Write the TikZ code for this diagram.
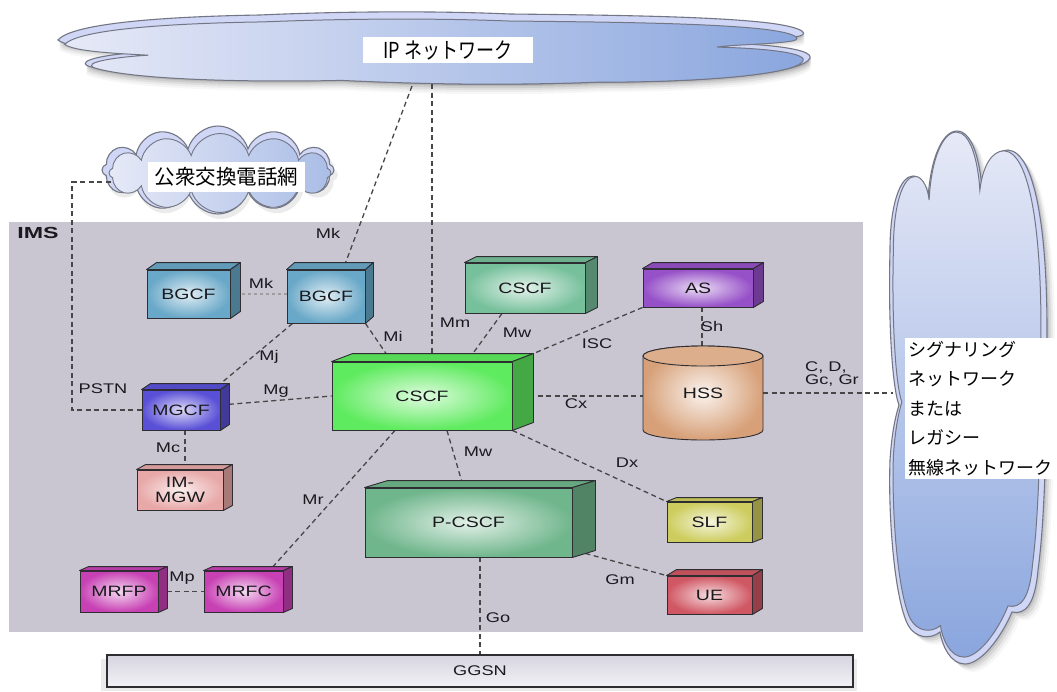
\documentclass[tikz,border=0pt]{standalone}
\usepackage{fontspec}
\usetikzlibrary{calc,shapes.symbols}
\newfontfamily\lat{Liberation Sans}[FakeStretch=1.3]
\newfontfamily\latw{Liberation Sans}[FakeStretch=1.45]
\newfontfamily\jp{Noto Sans CJK JP}
\newfontfamily\jpn{Noto Sans CJK JP}[FakeStretch=0.82]

\definecolor{imsbg}{RGB}{201,198,210}
\definecolor{edge}{RGB}{45,45,50}
\definecolor{txt}{RGB}{25,25,30}
\definecolor{cbgcf}{RGB}{105,168,200}
\definecolor{ccscfu}{RGB}{118,192,155}
\definecolor{ccscf}{RGB}{95,235,95}
\definecolor{cas}{RGB}{150,80,200}
\definecolor{chss}{RGB}{215,160,120}
\definecolor{cmgcf}{RGB}{90,80,215}
\definecolor{cimgw}{RGB}{232,168,168}
\definecolor{cpcscf}{RGB}{112,182,140}
\definecolor{cslf}{RGB}{205,205,95}
\definecolor{cue}{RGB}{208,88,100}
\definecolor{cmrf}{RGB}{200,65,180}
\definecolor{cloudhi}{RGB}{208,214,246}
\definecolor{cloudlt}{RGB}{230,233,247}
\definecolor{clouddk}{RGB}{138,166,222}
\definecolor{cloudln}{RGB}{115,118,132}

\pgfdeclarelayer{back}
\pgfdeclarelayer{lines}
\pgfsetlayers{back,lines,main}

\tikzset{
  unit/.style={draw=edge, line width=0.9, inner sep=0pt, inner color=#1!20!white,
    outer color=#1, font=\lat\fontsize{15}{16}\selectfont, text=txt, align=center},
  link/.style={draw=black!72, line width=1.3, dash pattern=on 5pt off 3.5pt},
  faintlink/.style={draw=black!38, line width=1.1, dash pattern=on 3pt off 3pt},
  iface/.style={font=\lat\fontsize{14}{13}\selectfont, text=txt, inner sep=0pt, align=left},
  whitelabel/.style={fill=white, inner sep=0pt, text=black},
  cloudrim/.style={fill=cloudhi, draw=cloudln, line width=1.1},
}

% a solid block: front face as a node, top and side faces drawn behind it
\newcommand\unitbox[9]{%
  \node[unit=#8, minimum width=#4, minimum height=#5] (#1) at (#2,#3) {#9};
  \fill[#8!92!black, draw=edge, line width=0.9, line join=round]
    (#1.north west) -- ++(#6,-#7) -- ($(#1.north east)+(#6,-#7)$) -- (#1.north east) -- cycle;
  \fill[#8!72!black, draw=edge, line width=0.9, line join=round]
    (#1.north east) -- ++(#6,-#7) -- ($(#1.south east)+(#6,-#7)$) -- (#1.south east) -- cycle;
}

% outline of the wide cloud at the top
\def\topcloud{(58,40) .. controls (75,20) and (200,16) .. (260,15)
  .. controls (350,11) and (440,11) .. (510,14)
  .. controls (600,15) and (700,16) .. (760,22)
  .. controls (800,26) and (810,33) .. (800,36)
  .. controls (780,40) and (740,40) .. (722,43)
  .. controls (760,44) and (813,48) .. (810,58)
  .. controls (805,72) and (720,82) .. (600,82)
  .. controls (500,86) and (420,84) .. (340,80)
  .. controls (250,82) and (130,80) .. (88,66)
  .. controls (75,60) and (110,54) .. (143,52)
  .. controls (110,50) and (68,48) .. (58,40) -- cycle}

% outline of the tall cloud on the right
\def\sidecloud{(890,250) .. controls (890,205) and (900,176) .. (913,176)
  .. controls (922,176) and (927,190) .. (928,200)
  .. controls (930,160) and (942,131) .. (957,131)
  .. controls (972,131) and (980,160) .. (982,190)
  .. controls (985,165) and (995,150) .. (1008,150)
  .. controls (1035,152) and (1047,230) .. (1047,330)
  .. controls (1047,430) and (1045,520) .. (1038,570)
  .. controls (1035,605) and (1025,615) .. (1012,612)
  .. controls (1000,640) and (980,664) .. (965,664)
  .. controls (950,664) and (942,645) .. (940,632)
  .. controls (930,640) and (915,638) .. (908,625)
  .. controls (895,600) and (888,520) .. (890,460)
  .. controls (892,430) and (896,415) .. (899,405)
  .. controls (893,390) and (888,330) .. (890,250) -- cycle}

\begin{document}
\begin{tikzpicture}[x=1pt, y=-1pt]
\useasboundingbox (0,0) rectangle (1057,691);

\begin{pgfonlayer}{back}
  \fill[white] (0,0) rectangle (1057,691);
  % IMS domain
  \fill[imsbg] (9,222) rectangle (863,632);
  % IP network cloud
  \foreach \o/\op in {2/0.10,4/0.08,6/0.06,8/0.04,10/0.03}
    \fill[black, opacity=\op, shift={(1,\o)}] \topcloud;
  \path[cloudrim] \topcloud;
  \path[draw=cloudln, line width=1, left color=cloudlt, right color=clouddk,
    shift={(433,84)}, xscale=0.982, yscale=0.9, shift={(-433,-84)}] \topcloud;
  % signalling / legacy network cloud
  \foreach \o/\op in {2/0.09,4/0.07,6/0.05,8/0.03}
    \fill[black, opacity=\op, shift={(\o,\o)}] \sidecloud;
  \path[cloudrim] \sidecloud;
  \path[draw=cloudln, line width=1, top color=cloudlt, bottom color=clouddk,
    shift={(962,400)}, xscale=0.94, yscale=0.985, shift={(-963,-403)}] \sidecloud;
  % PSTN cloud
  \node[cloud, cloud puffs=12, aspect=2.7, minimum width=234, minimum height=88,
    fill=black, opacity=0.08] (pstnshadow) at (221,175) {};
  \node[cloud, cloud puffs=12, aspect=2.7, minimum width=232, minimum height=88,
    cloudrim] (pstnnet) at (218,170) {};
  \node[cloud, cloud puffs=12, aspect=2.7, minimum width=222, minimum height=79,
    draw=cloudln, line width=0.9, left color=cloudlt, right color=clouddk!65!cloudlt]
    (pstnin) at (220,173) {};
  % GGSN bar
  \fill[black, opacity=0.08] (101,659) rectangle (857,691);
\end{pgfonlayer}

% cloud captions
\node[whitelabel, minimum width=170, minimum height=26,
  font=\jpn\fontsize{22}{24}\selectfont] (iplbl) at (448,50) {IP ネットワーク};
\node[whitelabel, minimum width=157, minimum height=30,
  font=\jp\fontsize{20.5}{22}\selectfont] (pstnlbl) at (226.5,177) {公衆交換電話網};
\node[whitelabel, anchor=north west, inner sep=3pt, align=left,
  font=\jp\fontsize{18}{29.5}\selectfont] (siglbl) at (905,338)
  {シグナリング\\ネットワーク\\または\\レガシー\\無線ネットワーク};
\node[font=\latw\bfseries\fontsize{16}{18}\selectfont, text=txt, inner sep=0pt]
  (imslbl) at (38,233) {IMS};

% free ends of connectors on the clouds
\coordinate (ipA) at (412,86);
\coordinate (ipB) at (432,84);
\coordinate (pstncorner) at (72,182);
\coordinate (pstnend) at (113,182);
\coordinate (sigend) at (893,393);

% HSS database
\path[draw=edge, line width=0.9, inner color=chss!12!white, outer color=chss]
  (643,356) -- (643,430) arc[start angle=180, end angle=0, x radius=60, y radius=10]
  -- (763,356) arc[start angle=0, end angle=-180, x radius=60, y radius=10] -- cycle;
\draw[edge, line width=0.9, fill=chss!85!white] (703,356) ellipse[x radius=60, y radius=10];
\node[font=\lat\fontsize{15}{16}\selectfont, text=txt, minimum width=120,
  minimum height=94, inner sep=0pt] (hss) at (703,393) {HSS};

% functional blocks
\unitbox{bgcfA}{188.5}{294}{83}{48}{10}{7}{cbgcf}{BGCF}
\unitbox{bgcfB}{326}{296.5}{78}{53}{8}{7}{cbgcf}{BGCF}
\unitbox{cscfU}{525}{288}{120}{50}{12}{6}{ccscfu}{CSCF}
\unitbox{as}{698}{288}{110}{38}{10}{6}{cas}{AS}
\unitbox{cscf}{422}{396}{180}{68}{21}{8}{ccscf}{CSCF}
\unitbox{mgcf}{181}{410}{78}{40}{9}{6}{cmgcf}{MGCF}
\unitbox{imgw}{180}{490}{86}{40}{9}{5}{cimgw}{IM-\\[-1pt]MGW}
\unitbox{pcscf}{468.5}{522.5}{207}{69}{23}{7}{cpcscf}{P-CSCF}
\unitbox{slf}{709.5}{522}{85}{40}{10}{4}{cslf}{SLF}
\unitbox{ue}{709.5}{595}{85}{38}{10}{6}{cue}{UE}
\unitbox{mrfp}{119}{591.5}{78}{41}{9}{4}{cmrf}{MRFP}
\unitbox{mrfc}{243.5}{591.5}{79}{41}{9}{4}{cmrf}{MRFC}

\node[draw=edge, line width=1.4, top color={rgb,255:red,214;green,212;blue,222},
  bottom color={rgb,255:red,243;green,242;blue,247}, minimum width=746,
  minimum height=32, inner sep=0pt, font=\lat\fontsize{14}{16}\selectfont, text=txt]
  (ggsn) at (480,671) {GGSN};

% reference points
\begin{pgfonlayer}{lines}
  \draw[link] (ipA) -- ([xshift=17pt]bgcfB.north);
  \draw[link] (ipB) -- ([xshift=10pt]cscf.north);
  \draw[faintlink] (bgcfA.east) -- (bgcfA.east -| bgcfB.west);
  \draw[link] (bgcfB.south east) -- ([xshift=60pt]cscf.north west);
  \draw[link] ([xshift=6pt]bgcfB.south west) -- ([xshift=-7pt]mgcf.north east);
  \draw[link] (mgcf.west) -| (pstncorner) -- (pstnend);
  \draw[link] ([yshift=5pt]mgcf.east) -- (cscf.west);
  \draw[link] ([xshift=4pt]mgcf.south) -- ([xshift=4pt]mgcf.south |- imgw.north);
  \draw[link] ([xshift=-27pt]cscf.south) -- ([xshift=26pt]mrfc.north);
  \draw[link] (mrfp.east) -- (mrfc.west);
  \draw[link] ([xshift=-23pt]cscfU.south) -- ([xshift=45pt]cscf.north);
  \draw[link] (as.south west) -- ([xshift=21pt,yshift=8pt]cscf.north east);
  \draw[link] ([xshift=4pt]as.south) -- ([xshift=4pt]as.south |- hss.north);
  \draw[link] (cscf.east) -- (cscf.east -| hss.west);
  \draw[link] (hss.east) -- (sigend);
  \draw[link] (cscf.south east) -- (slf.north west);
  \draw[link] ([xshift=25pt]cscf.south) -- ([xshift=-5pt]pcscf.north);
  \draw[link] ([xshift=13pt,yshift=4pt]pcscf.south east) -- (ue.north west);
  \draw[link] (pcscf.south -| ggsn.north) -- (ggsn.north);
\end{pgfonlayer}

% interface names
\node[iface] (lMkA) at (328,233) {Mk};
\node[iface] (lMkB) at (261,283) {Mk};
\node[iface] (lMi) at (393,336) {Mi};
\node[iface] (lMj) at (269,357) {Mj};
\node[iface] (lPSTN) at (103,389) {PSTN};
\node[iface] (lMg) at (276,391) {Mg};
\node[iface] (lMc) at (168,448) {Mc};
\node[iface] (lMr) at (313,500) {Mr};
\node[iface] (lMp) at (182,578) {Mp};
\node[iface] (lMm) at (455,323) {Mm};
\node[iface] (lMwA) at (517,333) {Mw};
\node[iface] (lISC) at (597,344) {ISC};
\node[iface] (lSh) at (712,326) {Sh};
\node[iface] (lCx) at (576,404) {Cx};
\node[iface, anchor=west] (lCD) at (805,374) {C, D,\\Gc, Gr};
\node[iface] (lDx) at (627,463) {Dx};
\node[iface] (lMwB) at (478,452) {Mw};
\node[iface] (lGm) at (620,580) {Gm};
\node[iface] (lGo) at (498,618) {Go};
\end{tikzpicture}
\end{document}
